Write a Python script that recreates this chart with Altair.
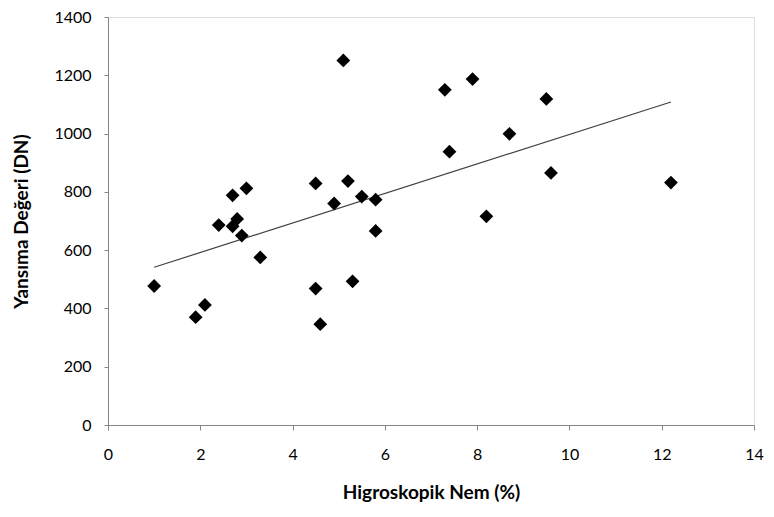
import altair as alt
import pandas as pd

nem = [1.0, 1.9, 2.1, 2.4, 2.7, 3.0, 2.8, 2.7, 2.9, 3.3, 4.5, 4.5, 4.6, 4.9,
       5.1, 5.2, 5.5, 5.8, 5.8, 5.3, 7.3, 7.9, 7.4, 8.7, 8.2, 9.5, 9.6, 12.2]
yansima = [477, 370, 412, 686, 788, 812, 707, 682, 650, 575, 829, 468, 346, 760,
           1251, 837, 784, 773, 666, 493, 1150, 1187, 938, 999, 716, 1119, 865, 832]

df = pd.DataFrame({"nem": nem, "yansima": yansima})

FONT = "Lato"

x = alt.X("nem:Q", title="Higroskopik Nem (%)",
          scale=alt.Scale(domain=[0, 14], nice=False),
          axis=alt.Axis(values=[0, 2, 4, 6, 8, 10, 12, 14], grid=False, format="d",
                        labelFlush=False,
                        domainColor="#868686", tickColor="#868686", tickSize=5,
                        labelFontSize=16, labelPadding=16, labelColor="#000000",
                        titleFontSize=19, titleFontWeight="bold", titlePadding=21,
                        titleColor="#000000", labelFont=FONT, titleFont=FONT))
y = alt.Y("yansima:Q", title="Yansıma Değeri (DN)",
          scale=alt.Scale(domain=[0, 1400], nice=False),
          axis=alt.Axis(values=[0, 200, 400, 600, 800, 1000, 1200, 1400], grid=False,
                        format="d", labelFlush=False,
                        domainColor="#868686", tickColor="#868686", tickSize=4,
                        labelFontSize=16, labelPadding=13, labelColor="#000000",
                        titleFontSize=19, titleFontWeight="bold", titlePadding=22,
                        titleColor="#000000", labelFont=FONT, titleFont=FONT))

points = alt.Chart(df).mark_point(shape="diamond", filled=True, size=190,
                                  color="#000000", opacity=1).encode(x=x, y=y)

trend = alt.Chart(df).transform_regression("nem", "yansima").mark_line(
    color="#404040", strokeWidth=1.2).encode(x="nem:Q", y="yansima:Q")

chart = (trend + points).properties(
    width=646, height=408,
    autosize=alt.AutoSizeParams(type="none"),
    padding={"left": 100, "top": 9, "right": 12, "bottom": 78},
).configure_view(stroke=None).configure(background="white")

chart.save("out.html", embed_options={"renderer": "svg", "actions": False})
